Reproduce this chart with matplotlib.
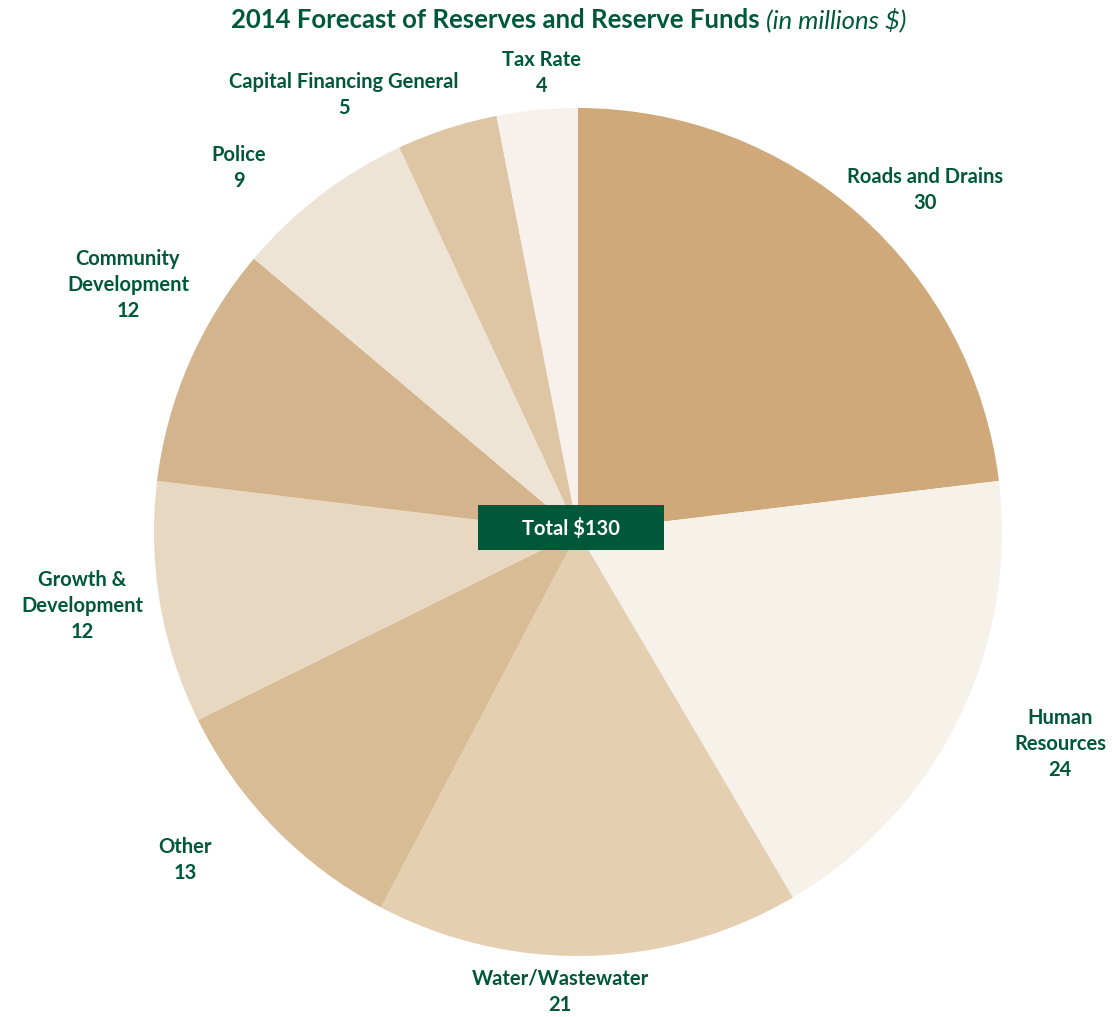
import matplotlib.pyplot as plt
from matplotlib.patches import Rectangle

categories = ['Roads and Drains', 'Human\nResources', 'Water/Wastewater', 'Other',
              'Growth &\nDevelopment', 'Community\nDevelopment', 'Police',
              'Capital Financing General', 'Tax Rate']
values = [30, 24, 21, 13, 12, 12, 9, 5, 4]
colors = ['#CFA979', '#F6F2EA', '#E5CFB1', '#D8BC96', '#E8D8C2',
          '#D4B48C', '#EEE4D6', '#DEC5A4', '#F8F0EA']
total = sum(values)

# label centres in pixel coords (x, y from top)
label_pos = [(925, 190), (1060, 744), (560, 992), (185, 860), (82, 606),
             (128, 285), (239, 168), (344, 95), (542, 73)]

W, H = 1112, 1017
green = '#00583B'
plt.rcParams['font.family'] = ['Lato', 'DejaVu Sans']

fig = plt.figure(figsize=(W / 100, H / 100), dpi=100)
ax = fig.add_axes([0, 0, 1, 1])

cx, cy, r = 578, 532, 424
ax.pie(values, colors=colors, startangle=90, counterclock=False,
       center=(cx, H - cy), radius=r, frame=True,
       wedgeprops={'linewidth': 0, 'antialiased': True})
ax.set_xlim(0, W)
ax.set_ylim(0, H)
ax.axis('off')

for name, v, (x, y) in zip(categories, values, label_pos):
    ax.text(x, H - y, f'{name}\n{v}', ha='center', va='center', fontsize=14.5,
            fontweight='bold', color=green, linespacing=1.38)

# title
ax.text(766, H - 20, '2014 Forecast of Reserves and Reserve Funds ', ha='right', va='center',
        fontsize=18.5, fontweight='bold', color=green)
ax.text(766, H - 20, '(in millions $)', ha='left', va='center',
        fontsize=18.5, fontstyle='italic', color=green)

# centre box
ax.add_patch(Rectangle((478, H - 550), 186, 45, facecolor=green, edgecolor='none', zorder=5))
ax.text(571, H - 528, f'Total ${total}', ha='center', va='center', fontsize=14.5,
        fontweight='bold', color='white', zorder=6)

plt.savefig('out.png', dpi=100)
